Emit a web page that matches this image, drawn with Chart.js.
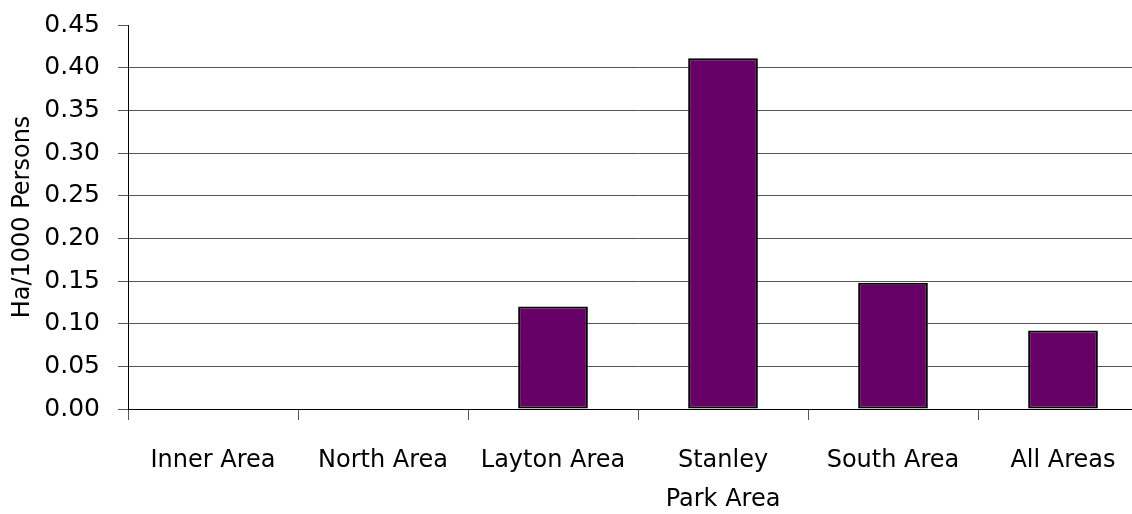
<!DOCTYPE html>
<html>
<head>
<meta charset="utf-8">
<script src="https://cdn.jsdelivr.net/npm/chart.js@4"></script>
<style>
  html, body { margin: 0; padding: 0; background: #fff; overflow: hidden; }
  #wrap { width: 1160px; height: 514px; }
</style>
</head>
<body>
<div id="wrap"><canvas id="grafico_areas"></canvas></div>
<script>
// categories and values
const categorias = ['Inner Area', 'North Area', 'Layton Area', ['Stanley', 'Park Area'], 'South Area', 'All Areas'];
const valores = [0, 0, 0.12, 0.411, 0.148, 0.092];
const eixo_y_titulo = 'Ha/1000 Persons';
const eixo_y_min = 0;
const eixo_y_max = 0.45;
const eixo_y_passo = 0.05;

const fonte = 'DejaVu Sans';

const data_areas = {
    labels: categorias,
    datasets: [{
        label: eixo_y_titulo,
        data: valores,
        backgroundColor: '#660066',
        borderColor: '#000000',
        borderWidth: 2,
        borderSkipped: false,
        barPercentage: 0.41,
        categoryPercentage: 1.0
    }]
};

const config_areas = {
    type: 'bar',
    data: data_areas,
    options: {
        responsive: true,
        maintainAspectRatio: false,
        animation: false,
        layout: { padding: { top: 25, right: 12, bottom: 0, left: 0 } },
        plugins: {
            legend: { display: false },
            tooltip: { enabled: false }
        },
        scales: {
            x: {
                grid: {
                    offset: true,
                    drawOnChartArea: false,
                    drawTicks: true,
                    tickLength: 11,
                    tickColor: '#555'
                },
                border: { color: '#000', width: 1 },
                ticks: {
                    color: '#000',
                    padding: 22,
                    maxRotation: 0,
                    autoSkip: false,
                    font: { family: fonte, size: 24, lineHeight: 1.6 }
                },
                afterFit: (scale) => { scale.height = 105; }
            },
            y: {
                min: eixo_y_min,
                max: eixo_y_max,
                grid: {
                    color: (ctx) => ctx.tick && ctx.tick.value >= eixo_y_max - 1e-9 ? 'rgba(0,0,0,0)' : '#555',
                    tickColor: '#555',
                    tickLength: 10,
                    lineWidth: 1
                },
                border: { color: '#000', width: 1 },
                ticks: {
                    stepSize: eixo_y_passo,
                    color: '#000',
                    padding: 18,
                    font: { family: fonte, size: 25 },
                    callback: (v) => Number(v).toFixed(2)
                },
                title: {
                    display: true,
                    text: eixo_y_titulo,
                    color: '#000',
                    padding: { top: 8, bottom: 2 },
                    font: { family: fonte, size: 24 }
                },
                afterFit: (scale) => {
                    scale.width = 128;
                    scale.paddingTop = 0;
                    scale.paddingBottom = 0;
                }
            }
        }
    }
};

const grafico_areas = new Chart(
    document.getElementById('grafico_areas'),
    config_areas
);
</script>
</body>
</html>
